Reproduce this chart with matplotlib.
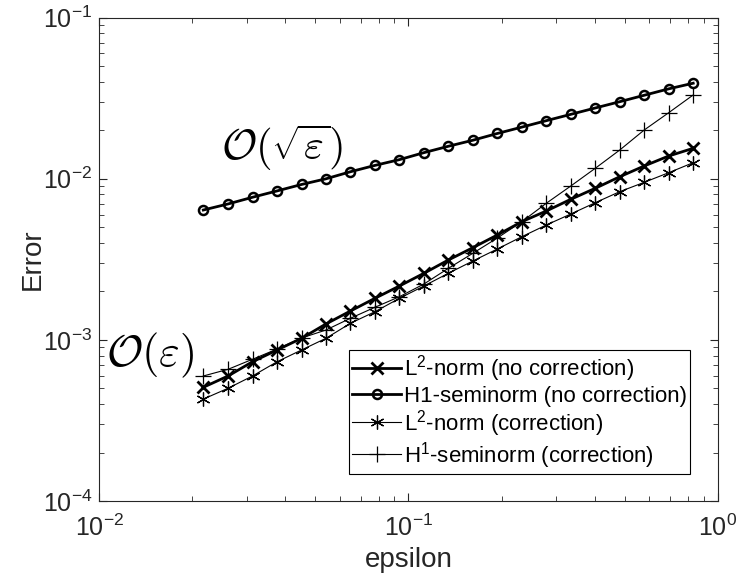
import numpy as np
import matplotlib
matplotlib.use('Agg')
import matplotlib.pyplot as plt

plt.rcParams['font.family'] = ['Liberation Sans', 'DejaVu Sans']
plt.rcParams['mathtext.fontset'] = 'custom'
plt.rcParams['mathtext.rm'] = 'Liberation Sans'
plt.rcParams['mathtext.it'] = 'Liberation Sans:italic'
plt.rcParams['mathtext.bf'] = 'Liberation Sans:bold'

# epsilon values
eps = [0.0217, 0.0261, 0.0313, 0.0376, 0.0451, 0.0541, 0.0649, 0.0779,
       0.0935, 0.1122, 0.1346, 0.1615, 0.1938, 0.2326, 0.2791, 0.3349,
       0.4019, 0.4823, 0.5787, 0.6944, 0.8333]

# L2-norm, no correction (x markers)
L2_nocorr = [5.08e-4, 5.97e-4, 7.32e-4, 8.66e-4, 1.023e-3, 1.256e-3, 1.511e-3,
             1.812e-3, 2.161e-3, 2.591e-3, 3.133e-3, 3.736e-3, 4.478e-3,
             5.418e-3, 6.31e-3, 7.46e-3, 8.73e-3, 1.030e-2, 1.201e-2,
             1.385e-2, 1.546e-2]

# H1-seminorm, no correction (circles)
H1_nocorr = [6.40e-3, 6.98e-3, 7.68e-3, 8.41e-3, 9.22e-3, 1.000e-2, 1.106e-2,
             1.211e-2, 1.315e-2, 1.453e-2, 1.592e-2, 1.735e-2, 1.911e-2,
             2.093e-2, 2.295e-2, 2.512e-2, 2.751e-2, 3.01e-2, 3.30e-2,
             3.617e-2, 3.92e-2]

# L2-norm, with correction (stars)
L2_corr = [4.29e-4, 5.01e-4, 5.97e-4, 7.32e-4, 8.66e-4, 1.023e-3, 1.268e-3,
           1.496e-3, 1.812e-3, 2.161e-3, 2.591e-3, 3.089e-3, 3.666e-3,
           4.371e-3, 5.166e-3, 6.045e-3, 7.106e-3, 8.32e-3, 9.51e-3,
           1.091e-2, 1.259e-2]

# H1-seminorm, with correction (plus)
H1_corr = [5.97e-4, 6.57e-4, 7.58e-4, 8.78e-4, 1.027e-3, 1.152e-3, 1.362e-3,
           1.594e-3, 1.854e-3, 2.223e-3, 2.782e-3, 3.448e-3, 4.29e-3,
           5.418e-3, 7.05e-3, 9.02e-3, 1.162e-2, 1.509e-2, 2.009e-2,
           2.572e-2, 3.313e-2]

labels = ['L$^2$-norm (no correction)', 'H1-seminorm (no correction)',
          'L$^2$-norm (correction)', 'H$^1$-seminorm (correction)']

fig = plt.figure(figsize=(7.37, 5.76), dpi=100)
ax = fig.add_axes([0.1347, 0.1302, 0.8391, 0.8391])

# matlab-like asterisk: 6 arms, one vertical
asterisk = (6, 2, 0)

ax.loglog(eps, L2_nocorr, 'k-x', lw=2.0, ms=9, mew=2.0, label=labels[0])
ax.loglog(eps, H1_nocorr, 'k-o', lw=2.0, ms=6.5, mew=1.8, mfc='none', label=labels[1])
ax.loglog(eps, L2_corr, 'k-', marker=asterisk, lw=0.8, ms=10, mew=0.9, label=labels[2])
ax.loglog(eps, H1_corr, 'k-+', lw=0.8, ms=12, mew=0.9, label=labels[3])

ax.set_xlim(1e-2, 1e0)
ax.set_ylim(1e-4, 1e-1)

ax.text(0.039, 0.0155, r'$\mathcal{O}(\sqrt{\varepsilon})$', fontsize=31,
        ha='center', va='center', math_fontfamily='cm')
ax.text(0.0146, 8.05e-4, r'$\mathcal{O}(\varepsilon)$', fontsize=32,
        ha='center', va='center', math_fontfamily='cm')

gray = '#262626'
for s in ax.spines.values():
    s.set_color(gray)
    s.set_linewidth(0.8)
ax.tick_params(which='both', direction='in', top=True, right=True,
               colors=gray, labelsize=18)
ax.tick_params(which='major', length=6)
ax.tick_params(which='minor', length=3.5)
ax.tick_params(axis='x', pad=10)
ax.tick_params(axis='y', pad=5)

ax.set_xlabel('epsilon', fontsize=20, color=gray, labelpad=4)
ax.set_ylabel('Error', fontsize=20, color=gray, labelpad=-2)

leg = ax.legend(loc='lower right', bbox_to_anchor=(0.955, 0.056), fontsize=16,
                fancybox=False, framealpha=1, edgecolor='k',
                handlelength=2.2, handletextpad=0.1, labelspacing=0.05,
                borderpad=0.15, borderaxespad=0)
leg.get_frame().set_linewidth(0.8)

fig.savefig('out.png', dpi=100)
